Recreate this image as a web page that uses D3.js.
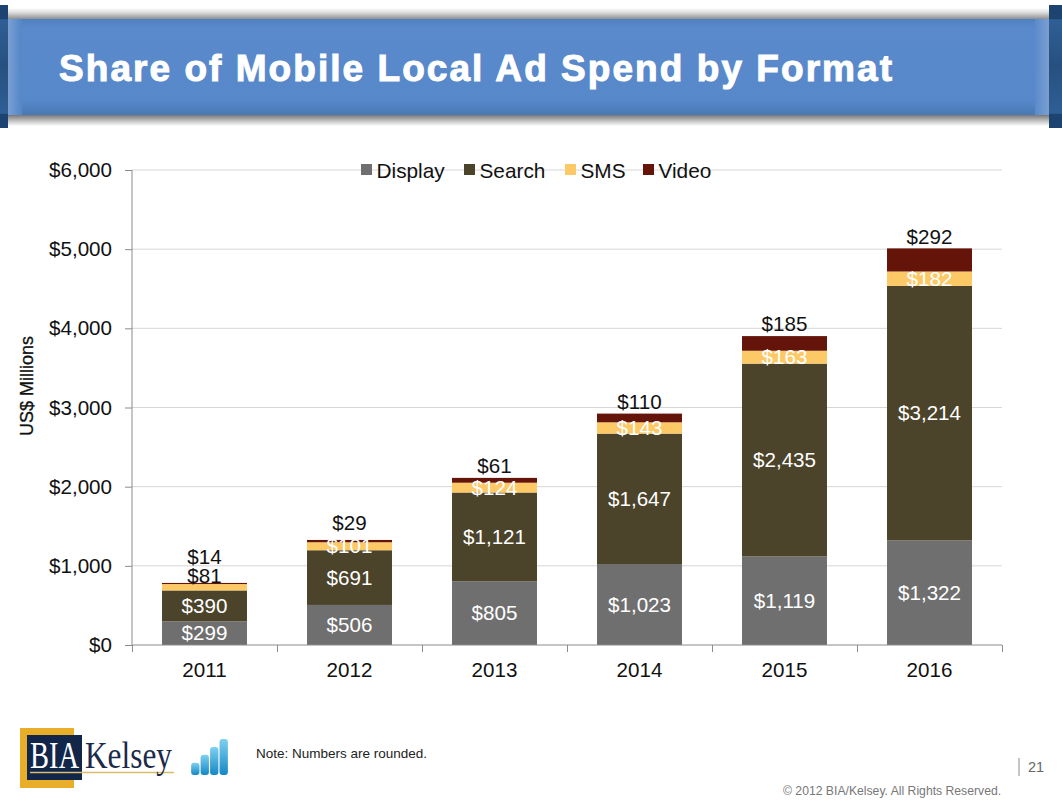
<!DOCTYPE html>
<html>
<head>
<meta charset="utf-8">
<script src="https://cdn.jsdelivr.net/npm/d3@7/dist/d3.min.js"></script>
<style>
  html, body { margin: 0; padding: 0; background: #fff; }
  svg { display: block; font-family: "Liberation Sans", Arial, sans-serif; }
  .tick text { fill: #111; font-size: 20.6px; }
</style>
</head>
<body>
<svg id="chart" width="1062" height="800"></svg>
<script>
const years = ['2011', '2012', '2013', '2014', '2015', '2016'];
const formats = ['Display', 'Search', 'SMS', 'Video'];
const display = [299, 506, 805, 1023, 1119, 1322];
const search = [390, 691, 1121, 1647, 2435, 3214];
const sms = [81, 101, 124, 143, 163, 182];
const video = [14, 29, 61, 110, 185, 292];
const yTicks = [0, 1000, 2000, 3000, 4000, 5000, 6000];
const formatColors = ['#6f6f6f', '#4b432a', '#fdc966', '#65140a'];
const iconBars = [1.7, 2.8, 3.9, 5];

const svg = d3.select('#chart');
const defs = svg.append('defs');

function vGrad(id, stops) {
  const gr = defs.append('linearGradient').attr('id', id).attr('x1', 0).attr('x2', 0).attr('y1', 0).attr('y2', 1);
  stops.forEach(s => gr.append('stop').attr('offset', s[0]).attr('stop-color', s[1]));
}
function hGrad(id, stops) {
  const gr = defs.append('linearGradient').attr('id', id).attr('x1', 0).attr('x2', 1).attr('y1', 0).attr('y2', 0);
  stops.forEach(s => gr.append('stop').attr('offset', s[0]).attr('stop-color', s[1]));
}
vGrad('shadeTop', [[0, '#ffffff'], [0.45, '#d8d8d8'], [1, '#8f8f8f']]);
vGrad('shadeBottom', [[0, '#777777'], [0.5, '#bdbdbd'], [1, '#ffffff']]);
vGrad('tab', [[0, '#1d4470'], [0.11, '#1d4470'], [0.12, '#2f5f96'], [0.5, '#27507f'], [0.88, '#2f5f96'], [0.89, '#1d4470'], [1, '#1d4470']]);
vGrad('band', [[0, '#4f80c2'], [0.1, '#5a8acb'], [0.85, '#5788ca'], [1, '#4a78b5']]);
hGrad('bandEdge', [[0, '#7b9fd2'], [0.012, '#5788ca'], [0.985, '#5788ca'], [1, '#7b9fd2']]);
vGrad('iconBar', [[0, '#7fd0ef'], [1, '#1488c4']]);

// ── 标题横幅 ──────────────────────────────────────────────
const header = svg.append('g');
header.append('rect').attr('x', 8).attr('y', 8).attr('width', 1041).attr('height', 11).attr('fill', 'url(#shadeTop)');
header.append('rect').attr('x', 8).attr('y', 115).attr('width', 1041).attr('height', 11).attr('fill', 'url(#shadeBottom)');
header.append('rect').attr('x', 0).attr('y', 5).attr('width', 8).attr('height', 123).attr('fill', 'url(#tab)');
header.append('rect').attr('x', 1049).attr('y', 5).attr('width', 13).attr('height', 123).attr('fill', 'url(#tab)');
header.append('rect').attr('x', 8).attr('y', 19).attr('width', 1041).attr('height', 96).attr('fill', 'url(#bandEdge)');
header.append('rect').attr('x', 22).attr('y', 19).attr('width', 1013).attr('height', 96).attr('fill', 'url(#band)');
header.append('text').attr('x', 59).attr('y', 80.5)
  .attr('fill', '#fff').attr('font-size', 37).attr('font-weight', 700)
  .attr('stroke', '#fff').attr('stroke-width', 1)
  .attr('textLength', 833).attr('lengthAdjust', 'spacing')
  .text('Share of Mobile Local Ad Spend by Format');

// ── 图表 ──────────────────────────────────────────────────
const x = d3.scaleBand().domain(years).range([132, 1002]).paddingInner(0.414).paddingOuter(0.207);
const y = d3.scaleLinear().domain([0, 6000]).range([645, 170]);

svg.append('g').selectAll('line').data(yTicks.filter(d => d > 0)).join('line')
  .attr('x1', 132).attr('x2', 1002)
  .attr('y1', d => y(d)).attr('y2', d => y(d))
  .attr('stroke', '#d6d6d6').attr('stroke-width', 1);

const rows = years.map((yr, i) => ({ year: yr, Display: display[i], Search: search[i], SMS: sms[i], Video: video[i] }));
const stacked = d3.stack().keys(formats)(rows);

const layers = svg.append('g').selectAll('g').data(stacked).join('g')
  .attr('fill', (d, i) => formatColors[i]);
layers.selectAll('rect').data(d => d).join('rect')
  .attr('x', d => x(d.data.year))
  .attr('width', x.bandwidth())
  .attr('y', d => y(d[1]))
  .attr('height', d => y(d[0]) - y(d[1]));

const yAxis = d3.axisLeft(y).tickValues(yTicks).tickFormat(d => '$' + d3.format(',')(d)).tickSize(7).tickPadding(13);
const gy = svg.append('g').attr('transform', 'translate(132,0)').call(yAxis);
const xTickAxis = d3.axisBottom(d3.scalePoint().domain(d3.range(7)).range([132, 1002])).tickSize(7).tickFormat('');
const gxTicks = svg.append('g').attr('transform', 'translate(0,645)').call(xTickAxis);
const gx = svg.append('g').attr('transform', 'translate(0,645)')
  .call(d3.axisBottom(x).tickSize(0).tickPadding(17));
gx.select('.domain').remove();
[gy, gxTicks].forEach(a => a.selectAll('.domain, line').attr('stroke', '#8c8c8c'));
gy.select('.domain').attr('d', 'M0,170V645');
gxTicks.select('.domain').attr('d', 'M132,0H1002');

// 数值标签:细段(2011 的 SMS / Video)放在柱顶之上
const labels = svg.append('g').attr('text-anchor', 'middle').attr('font-size', 20.6);
stacked.forEach((layer, li) => {
  layer.forEach(d => {
    const val = d[1] - d[0];
    const top = y(d[1]);
    const barTop = y(d.data.Display + d.data.Search + d.data.SMS + d.data.Video);
    let ly = (y(d[0]) + top) / 2, col = '#fff';
    if (li === 2 && d.data.SMS < 100) { ly = barTop - 7; col = '#111'; }
    if (li === 3) {
      ly = barTop - (d.data.Video < 20 ? 26 : d.data.Video < 50 ? 17 : 12);
      col = '#111';
    }
    labels.append('text')
      .attr('x', x(d.data.year) + x.bandwidth() / 2)
      .attr('y', ly).attr('dy', '0.35em')
      .attr('fill', col)
      .text('$' + d3.format(',')(val));
  });
});

svg.append('text')
  .attr('transform', 'translate(33,386) rotate(-90)')
  .attr('text-anchor', 'middle').attr('font-size', 18).attr('fill', '#111')
  .attr('stroke', '#111').attr('stroke-width', 0.3)
  .text('US$ Millions');

// ── 图例 ──────────────────────────────────────────────────
const legendX = [361, 464, 565, 643];
const legend = svg.append('g').selectAll('g').data(formats).join('g')
  .attr('transform', (d, i) => `translate(${legendX[i]},164)`);
legend.append('rect').attr('width', 11).attr('height', 11).attr('fill', (d, i) => formatColors[i]);
legend.append('text').attr('x', 15.5).attr('y', 14).attr('font-size', 20.8).attr('fill', '#111').text(d => d);

// ── 页脚 ──────────────────────────────────────────────────
const logo = svg.append('g');
logo.append('rect').attr('x', 20).attr('y', 728).attr('width', 54).attr('height', 60).attr('fill', '#e8ae2a');
logo.append('rect').attr('x', 27).attr('y', 735).attr('width', 55).attr('height', 45).attr('fill', '#12264a');
logo.append('line').attr('x1', 30).attr('x2', 174).attr('y1', 772.5).attr('y2', 772.5).attr('stroke', '#d8bd6b').attr('stroke-width', 1.5);
logo.append('text').attr('x', 30).attr('y', 768)
  .attr('font-family', '"Liberation Serif", serif').attr('font-size', 38).attr('fill', '#fff')
  .attr('textLength', 49).attr('lengthAdjust', 'spacingAndGlyphs').text('BIA');
logo.append('text').attr('x', 85).attr('y', 768)
  .attr('font-family', '"Liberation Serif", serif').attr('font-size', 38).attr('fill', '#1b2a4a')
  .attr('textLength', 87).attr('lengthAdjust', 'spacingAndGlyphs').text('Kelsey');

const icon = svg.append('g');
const iconX = d3.scaleBand().domain(d3.range(iconBars.length)).range([190, 229]).padding(0.12);
const iconY = d3.scaleLinear().domain([0, 5]).range([775, 739]);
icon.selectAll('rect').data(iconBars).join('rect')
  .attr('x', (d, i) => iconX(i)).attr('width', iconX.bandwidth())
  .attr('y', d => iconY(d)).attr('height', d => iconY(0) - iconY(d))
  .attr('rx', 3).attr('fill', 'url(#iconBar)');

svg.append('text').attr('x', 256).attr('y', 758).attr('font-size', 13.5).attr('fill', '#222').text('Note: Numbers are rounded.');
svg.append('line').attr('x1', 1019).attr('x2', 1019).attr('y1', 758).attr('y2', 776).attr('stroke', '#8a8a8a');
svg.append('text').attr('x', 1028).attr('y', 772).attr('font-size', 14.5).attr('fill', '#666').text('21');
svg.append('text').attr('x', 783).attr('y', 795).attr('font-size', 12.2).attr('fill', '#777').text('© 2012 BIA/Kelsey. All Rights Reserved.');
</script>
</body>
</html>
